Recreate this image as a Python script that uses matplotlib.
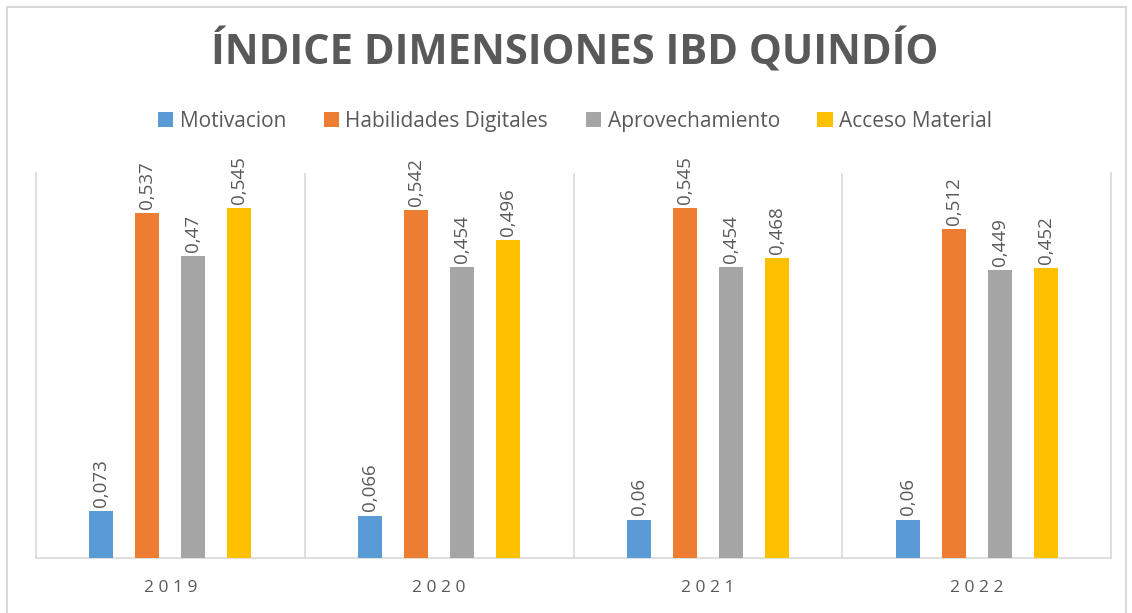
import numpy as np
import matplotlib
matplotlib.use("Agg")
import matplotlib.pyplot as plt
from matplotlib.patches import Rectangle

years = ["2019", "2020", "2021", "2022"]
series = ["Motivacion", "Habilidades Digitales", "Aprovechamiento", "Acceso Material"]
motivacion = [0.073, 0.066, 0.06, 0.06]
habilidades = [0.537, 0.542, 0.545, 0.512]
aprovechamiento = [0.47, 0.454, 0.454, 0.449]
acceso = [0.545, 0.496, 0.468, 0.452]
colors = ["#5B9BD5", "#ED7D31", "#A5A5A5", "#FFC000"]

plt.rcParams['font.family'] = ['Open Sans', 'DejaVu Sans']
txt = "#595959"
grid_c = "#D9D9D9"

fig = plt.figure(figsize=(11.32, 6.13), dpi=100)
ax = fig.add_axes([36 / 1132, 55 / 613, 1075 / 1132, 385 / 613])

x = np.arange(len(years))
width = 0.089
step = 0.171
values = [motivacion, habilidades, aprovechamiento, acceso]
for i, (name, vals) in enumerate(zip(series, values)):
    pos = x + (i - 1.5) * step
    bars = ax.bar(pos, vals, width, color=colors[i], label=name, zorder=3)
    for b, v in zip(bars, vals):
        lab = f"{v:g}".replace(".", ",")
        ax.annotate(lab, (b.get_x() + b.get_width() / 2, v), xytext=(0, 3),
                    textcoords="offset points", rotation=90, ha="center", va="bottom",
                    fontsize=13.5, color=txt)

ax.set_xlim(-0.5, 3.5)
ax.set_ylim(0, 0.6)
ax.set_yticks([])
ax.set_xticks(x)
ax.set_xticklabels([" ".join(y) for y in years], fontsize=12.5, color=txt)
ax.tick_params(axis="x", length=0, pad=16)
for xv in [0.5, 1.5, 2.5]:
    ax.axvline(xv, color=grid_c, lw=1.2, zorder=1)
for s in ["left", "right", "bottom"]:
    ax.spines[s].set_color(grid_c)
    ax.spines[s].set_linewidth(1.2)
ax.spines["top"].set_visible(False)

fig.text(0.508, 0.915, "ÍNDICE DIMENSIONES IBD QUINDÍO", ha="center", va="center",
         fontsize=30, fontweight="bold", color=txt)

fig.legend(loc="center", bbox_to_anchor=(0.508, 0.802), ncol=4, frameon=False,
           fontsize=15, labelcolor=txt, handlelength=0.75, handleheight=0.75,
           handletextpad=0.3, columnspacing=1.8)

fig.patches.append(Rectangle((7 / 1132, -0.01), 1119 / 1132, 1 - 7 / 613 + 0.01,
                             transform=fig.transFigure, fill=False,
                             edgecolor=grid_c, lw=1.5))

fig.savefig("out.png", dpi=100)
